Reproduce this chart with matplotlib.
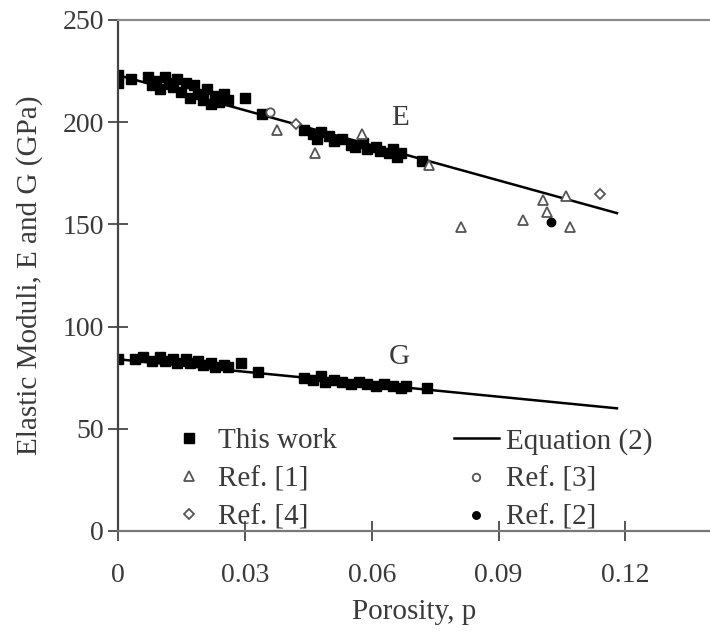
import numpy as np
import matplotlib.pyplot as plt

plt.rcParams['font.family'] = ['Liberation Serif', 'DejaVu Serif']

# This work: Young's modulus E
p_E = [0, 0, 0.003, 0.007, 0.008, 0.009, 0.010, 0.011, 0.012, 0.013, 0.014,
       0.015, 0.016, 0.017, 0.018, 0.019, 0.020, 0.021, 0.022, 0.023, 0.024,
       0.025, 0.026, 0.030, 0.034, 0.044, 0.046, 0.047, 0.048, 0.050, 0.051,
       0.053, 0.055, 0.056, 0.058, 0.059, 0.061, 0.062, 0.064, 0.065, 0.066,
       0.067, 0.072]
E_work = [223, 219, 221, 222, 218, 220, 216, 222, 219, 217, 221,
          215, 219, 212, 218, 214, 211, 216, 209, 213, 210,
          214, 211, 212, 204, 196, 194, 192, 195, 193, 191,
          192, 189, 188, 190, 187, 188, 186, 185, 187, 183,
          185, 181]

# This work: shear modulus G
p_G = [0, 0.004, 0.006, 0.008, 0.010, 0.011, 0.013, 0.014, 0.016, 0.017,
       0.019, 0.020, 0.022, 0.023, 0.025, 0.026, 0.029, 0.033, 0.044, 0.046,
       0.048, 0.049, 0.051, 0.053, 0.055, 0.057, 0.059, 0.061, 0.063, 0.065,
       0.067, 0.068, 0.073]
G_work = [84, 84, 85, 83, 85, 83, 84, 82, 84, 82,
          83, 81, 82, 80, 81, 80, 82, 78, 75, 74,
          76, 73, 74, 73, 72, 73, 72, 71, 72, 71,
          70, 71, 70]

# literature values
p_ref1 = [0.0375, 0.0465, 0.0576, 0.0735, 0.081, 0.0957, 0.1005, 0.1015, 0.106, 0.107]
E_ref1 = [196, 185, 194, 179, 148.5, 152, 162, 156, 164, 148.5]
p_ref3 = [0.036]
E_ref3 = [205]
p_ref4 = [0.042, 0.114]
E_ref4 = [199, 165]
p_ref2 = [0.1025]
E_ref2 = [151]

# Equation (2)
p_eq = [0, 0.118]
E_eq = [223, 155.5]
G_eq = [84, 60]

fig = plt.figure(figsize=(7.1, 6.34), dpi=100)
ax = fig.add_axes([0.1662, 0.1625, 0.8338, 0.806])

txt = '#3a3a3a'
ms = 7.5

h_work, = ax.plot(p_E, E_work, 's', color='black', ms=ms, label='This work')
ax.plot(p_G, G_work, 's', color='black', ms=ms)
h_eq, = ax.plot(p_eq, E_eq, '-', color='black', lw=1.8, label='Equation (2)')
ax.plot(p_eq, G_eq, '-', color='black', lw=1.8)
h_r1, = ax.plot(p_ref1, E_ref1, '^', mfc='white', mec='#555555', mew=1.3, ms=ms,
                label='Ref. [1]')
h_r3, = ax.plot(p_ref3, E_ref3, 'o', mfc='white', mec='#555555', mew=1.3, ms=6,
                label='Ref. [3]')
h_r4, = ax.plot(p_ref4, E_ref4, 'D', mfc='white', mec='#555555', mew=1.3, ms=5.5,
                label='Ref. [4]')
h_r2, = ax.plot(p_ref2, E_ref2, 'o', color='black', ms=6, label='Ref. [2]')

ax.text(0.0666, 202, 'E', fontsize=21, color=txt, ha='center', va='center')
ax.text(0.0666, 85, 'G', fontsize=21, color=txt, ha='center', va='center')

ax.set_xlim(0, 0.14)
ax.set_ylim(0, 250)
ax.set_xticks([0, 0.03, 0.06, 0.09, 0.12])
ax.set_xticklabels(['0', '0.03', '0.06', '0.09', '0.12'])
ax.set_yticks([0, 50, 100, 150, 200, 250])

ax.spines['right'].set_visible(False)
ax.spines['top'].set_color('#8c8c8c')
ax.spines['bottom'].set_color('#777777')
ax.spines['left'].set_color('#444444')
for s in ax.spines.values():
    s.set_linewidth(1.6)

ax.tick_params(axis='both', direction='inout', length=14, width=1.4,
               colors='#555555', labelcolor=txt, labelsize=20)
ax.tick_params(axis='x', pad=16)
ax.tick_params(axis='y', pad=3)

ax.set_xlabel('Porosity, p', fontsize=21, color=txt, labelpad=8)
ax.set_ylabel('Elastic Moduli, E and G (GPa)', fontsize=21, color=txt, labelpad=14)

ax.legend(handles=[h_work, h_r1, h_r4, h_eq, h_r3, h_r2], ncol=2, frameon=False,
          loc='lower left', bbox_to_anchor=(0.081, 0.0), fontsize=21,
          labelcolor=txt, handlelength=1.55, handletextpad=0.25, columnspacing=4.0,
          labelspacing=0.4, markerscale=0.9, borderpad=0, borderaxespad=0)

fig.savefig('out.png', dpi=100)
